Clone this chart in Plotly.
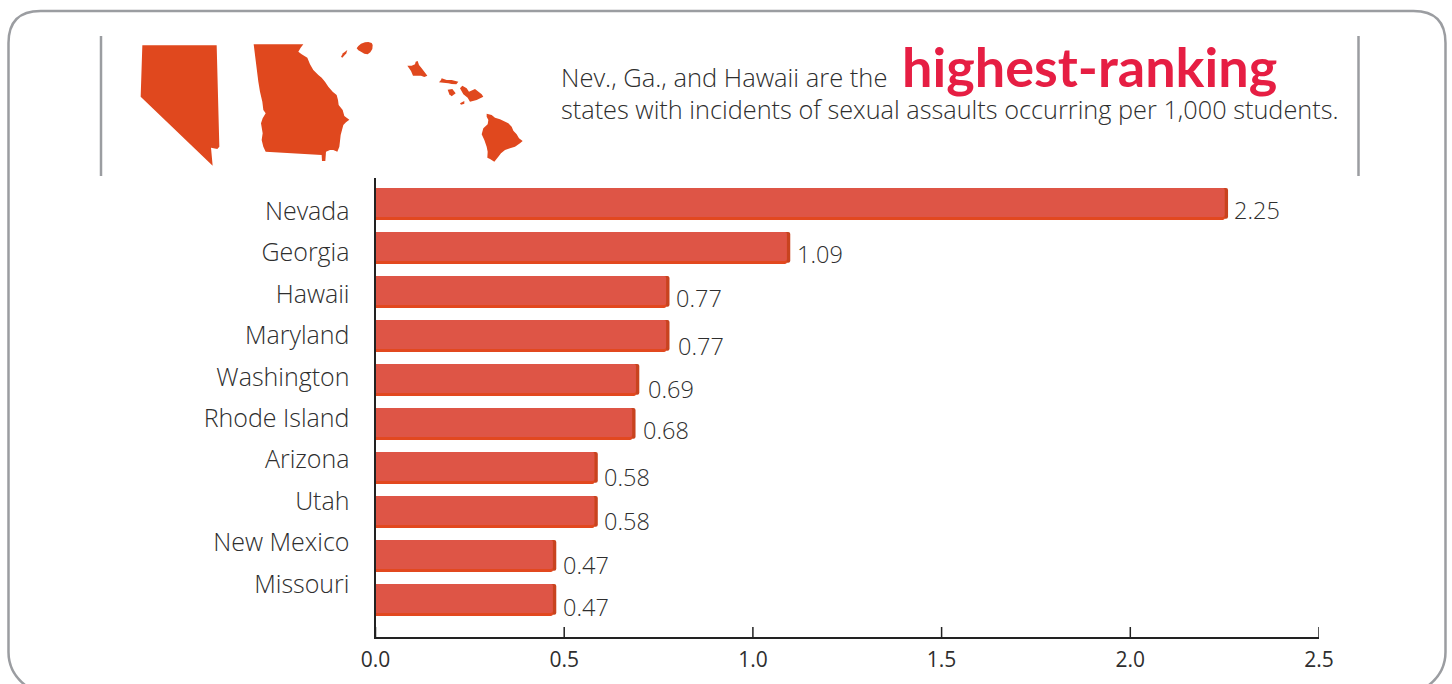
import plotly.graph_objects as go

W, H = 1452, 684

# ---- data ----
states = ["Nevada", "Georgia", "Hawaii", "Maryland", "Washington",
          "Rhode Island", "Arizona", "Utah", "New Mexico", "Missouri"]
rates = [2.25, 1.09, 0.77, 0.77, 0.69, 0.68, 0.58, 0.58, 0.47, 0.47]
rate_labels = ["2.25", "1.09", "0.77", "0.77", "0.69", "0.68", "0.58", "0.58", "0.47", "0.47"]
x_ticks = [0, 0.5, 1.0, 1.5, 2.0, 2.5]

# ---- hand-placed label nudges seen in the reference ----
label_dx = [7, 8, 8, 10, 10, 9, 8, 8, 8, 8]
label_dy = [-6, -6, -6, -10, -9, -6, -9, -9, -9, -7]

# ---- colours ----
FACE = "#DE5546"
BOTTOM = "#E2481F"
SIDE = "#C8431F"
MAP = "#E0481E"
GREY = "#9B9DA1"
TEXT = "#2E2E2E"
RED = "#E61E43"
AXIS = "#222222"
FONT = "Open Sans"
FONT_BOLD = "Lato"

# ---- decorative silhouettes (traced in reference pixels) ----
nevada = [(37,31),(260,31),(268,335),(262,342),(243,338),(248,392),(32,185)]
georgia = [(11,28),(160,28),(152,38),(145,50),(155,58),(172,68),(180,88),(190,105),(205,120),(215,128),
           (225,140),(235,155),(248,170),(260,180),(264,195),(266,210),(278,225),(283,243),(298,254),
           (288,262),(280,270),(276,285),(272,300),(270,318),(268,335),(262,350),(250,345),(240,345),
           (228,350),(226,378),(216,378),(215,360),(47,350),(40,335),(35,315),(38,295),(33,265),(38,250),
           (47,235),(40,225),(37,200),(30,170),(25,140)]
hawaii = [
    [(18,65),(24,55),(37,45),(34,55),(22,68)],
    [(65,40),(70,33),(78,26),(90,22),(100,21),(110,24),(113,30),(112,42),(106,52),(98,58),(88,56),(78,50),(70,46)],
    [(217,92),(230,92),(240,88),(242,80),(248,78),(252,90),(260,100),(268,110),(277,122),(268,126),(258,122),
     (248,122),(234,122),(228,108)],
    [(312,142),(318,135),(320,130),(335,135),(350,135),(370,140),(364,148),(350,147),(340,145),(325,143)],
    [(338,164),(352,162),(362,175),(350,184),(343,178)],
    [(375,160),(382,152),(395,160),(402,170),(420,162),(440,178),(445,185),(425,195),(405,200),(398,188),(385,178)],
    [(375,205),(388,198),(388,206),(378,209)],
    [(455,236),(470,240),(480,248),(495,253),(520,265),(530,275),(535,287),(545,298),(552,310),(563,318),(555,325),
     (540,335),(525,340),(510,345),(498,355),(490,365),(478,380),(465,372),(457,368),(458,350),(455,335),(448,315),
     (440,298),(445,280),(458,268),(460,255),(455,245)],
]

PLOT_L, PLOT_R, PLOT_T, PLOT_B = 375.5, 1319, 178, 637


def px(x, y):
    return f"{x / W:.5f},{1 - y / H:.5f}"


def poly(points, ox, oy):
    pts = [px(ox + a / 3, oy + b / 3) for a, b in points]
    return "M" + " L".join(pts) + " Z"


def dom_x(x):
    return (x - PLOT_L) / (PLOT_R - PLOT_L)


def dom_y(y):
    return (PLOT_B - y) / (PLOT_B - PLOT_T)


shapes = []
for path in [poly(nevada, 130, 35), poly(georgia, 250, 35)] + [poly(p, 335, 35) for p in hawaii]:
    shapes.append(dict(type="path", xref="paper", yref="paper", path=path,
                       fillcolor=MAP, line=dict(width=0), layer="below"))

# rounded frame, open at the bottom of the page
L, R, T, RAD = 8.5, 1445.5, 11, 32
frame = ("M" + px(25, H + 1) + " Q" + px(L, 672) + " " + px(L, 652) +
         " L" + px(L, T + RAD) + " Q" + px(L, T) + " " + px(L + RAD, T) +
         " L" + px(R - RAD, T) + " Q" + px(R, T) + " " + px(R, T + RAD) +
         " L" + px(R, 652) + " Q" + px(R, 672) + " " + px(1429, H + 1))
shapes.append(dict(type="path", xref="paper", yref="paper", path=frame,
                   line=dict(color=GREY, width=2.5), layer="below"))
for x in (101, 1358.5):
    shapes.append(dict(type="line", xref="paper", yref="paper",
                       x0=x / W, x1=x / W, y0=1 - 36 / H, y1=1 - 176 / H,
                       line=dict(color=GREY, width=2.5), layer="below"))
# upward tick marks on the value axis
for v in x_ticks:
    shapes.append(dict(type="line", xref="x", yref="paper", x0=v, x1=v,
                       y0=1 - PLOT_B / H, y1=1 - (PLOT_B - 10) / H,
                       line=dict(color=AXIS, width=1.5), layer="above"))

fig = go.Figure()
side_x = [v + 0.009 for v in rates]
fig.add_bar(y=states, x=side_x, orientation="h", marker=dict(color=SIDE, line=dict(width=0)),
            width=0.70, offset=-0.364, hoverinfo="skip")
fig.add_bar(y=states, x=rates, orientation="h", marker=dict(color=BOTTOM, line=dict(width=0)),
            width=0.727, offset=-0.364, hoverinfo="skip")
fig.add_bar(y=states, x=rates, orientation="h", marker=dict(color=FACE, line=dict(width=0)),
            width=0.66, offset=-0.364, hovertemplate="%{y}: %{x}<extra></extra>")
# invisible carrier for the state names, which sit on their own tighter spacing
fig.add_bar(y=states, x=rates, orientation="h", yaxis="y2", opacity=0, hoverinfo="skip")

annotations = [
    dict(x=v, y=s, text=t, xref="x", yref="y", xanchor="left", yanchor="middle",
         xshift=dx, yshift=dy, showarrow=False, font=dict(family=FONT, size=23.5, color=TEXT, weight=300))
    for v, s, t, dx, dy in zip(rates, states, rate_labels, label_dx, label_dy)
]
annotations += [
    dict(x=dom_x(558.5), y=dom_y(76.5), xref="x domain", yref="y domain", xanchor="left", yanchor="middle",
         text="Nev., Ga., and Hawaii are the", showarrow=False,
         font=dict(family=FONT, size=25.5, color=TEXT, weight=300)),
    dict(x=dom_x(900), y=dom_y(66), xref="x domain", yref="y domain", xanchor="left", yanchor="middle",
         text="highest-ranking", showarrow=False,
         font=dict(family=FONT_BOLD, size=54, color=RED, weight=700)),
    dict(x=dom_x(558.5), y=dom_y(109), xref="x domain", yref="y domain", xanchor="left", yanchor="middle",
         text="states with incidents of sexual assaults occurring per 1,000 students.", showarrow=False,
         font=dict(family=FONT, size=25.3, color=TEXT, weight=300)),
]

fig.update_layout(
    width=W, height=H, margin=dict(l=0, r=0, t=0, b=0, autoexpand=False),
    paper_bgcolor="white", plot_bgcolor="rgba(0,0,0,0)",
    barmode="overlay", barcornerradius=2, showlegend=False,
    shapes=shapes, annotations=annotations,
    font=dict(family=FONT, color=TEXT),
    xaxis=dict(domain=[PLOT_L / W, PLOT_R / W], range=[0, 2.5], tickvals=x_ticks, tickformat=".1f",
               ticks="", ticklabelstandoff=3,
               showline=True, linecolor=AXIS, linewidth=1.8, showgrid=False, zeroline=False,
               tickfont=dict(family=FONT, size=21, color=TEXT)),
    yaxis=dict(domain=[1 - PLOT_B / H, 1 - PLOT_T / H], range=[9.84, -0.59], type="category",
               categoryorder="array", categoryarray=states, showticklabels=False, ticks="",
               showline=True, linecolor=AXIS, linewidth=1.8, showgrid=False, zeroline=False),
    yaxis2=dict(domain=[1 - PLOT_B / H, 1 - PLOT_T / H], range=[10.28, -0.796], type="category",
                categoryorder="array", categoryarray=states, overlaying="y", side="left", anchor="x",
                ticks="outside", ticklen=20, tickcolor="rgba(0,0,0,0)", showline=False, showgrid=False,
                zeroline=False, tickfont=dict(family=FONT, size=25, color=TEXT, weight=300)),
)
fig.write_html("out.html", config=dict(displayModeBar=False),
               post_script="document.body.style.margin='0';window.dispatchEvent(new Event('resize'));")
